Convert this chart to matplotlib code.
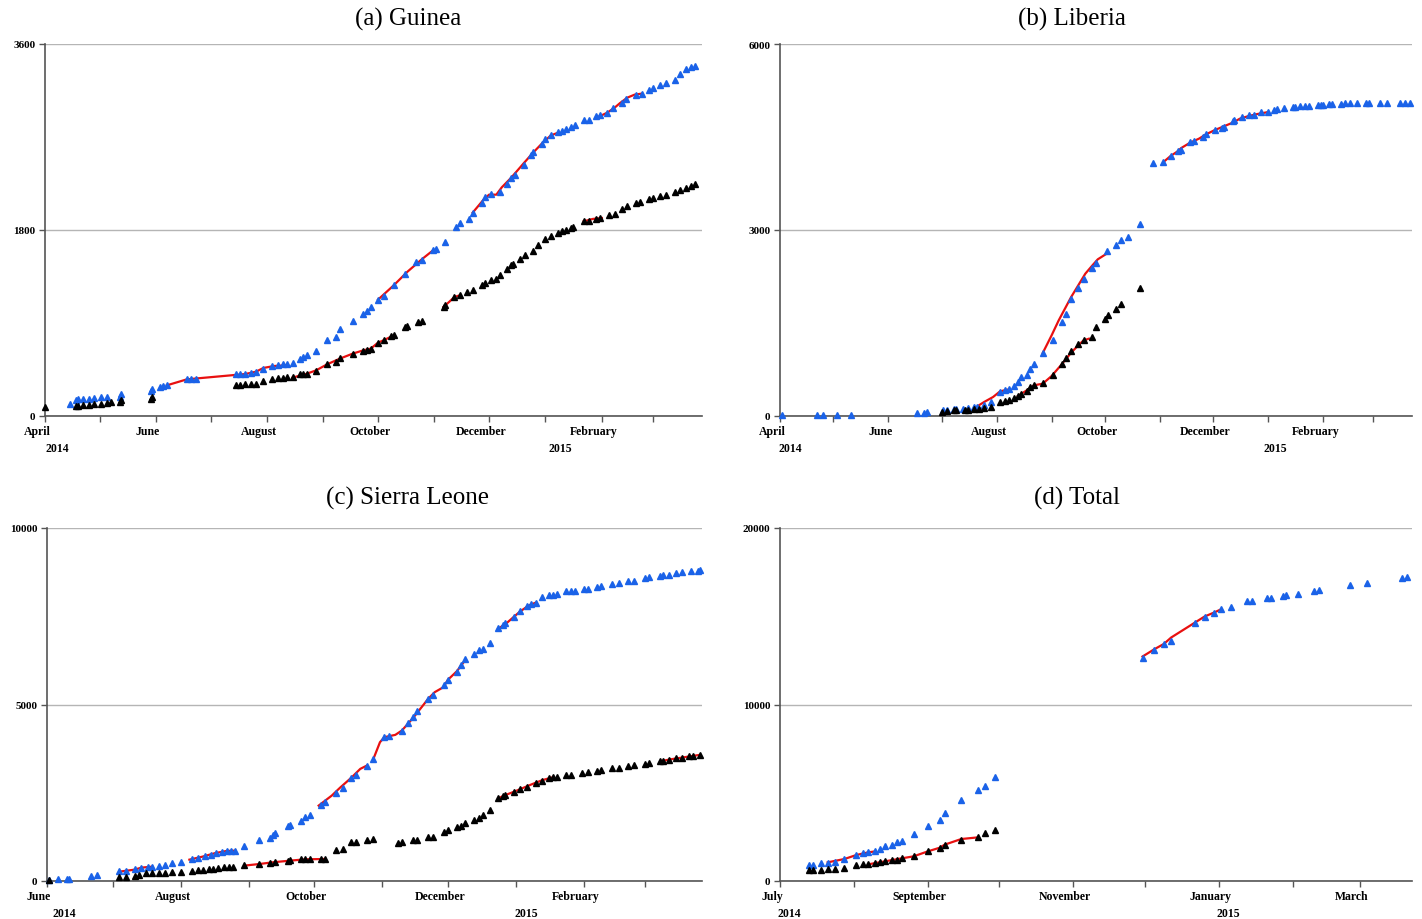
import numpy as np
import pandas as pd
import matplotlib
matplotlib.use("Agg")
from matplotlib import pyplot as plt

plt.rcParams['font.family'] = ['Liberation Serif', 'DejaVu Serif']

BLUE = '#1a62e8'
RED = '#e81010'

# ---- (a) Guinea: days since 2014-04-01 ----
guinea_case_days = [14, 17, 18, 21, 24, 27, 31, 34, 41, 42, 58, 59, 63, 65, 67, 78, 80, 83,
                    105, 107, 110, 113, 116, 120, 125, 128, 131, 133, 136, 140, 142, 144, 149,
                    155, 160, 162, 169, 175, 177, 179, 183, 186, 192, 198, 204, 207, 213, 215,
                    220, 226, 228, 233, 235, 240, 242, 245, 250, 254, 256, 258, 263, 267, 268,
                    273, 275, 278, 282, 284, 286, 289, 291, 296, 299, 303, 305, 309, 312, 317,
                    319, 325, 328, 332, 334, 338, 341, 346, 349, 352, 355, 357]
guinea_cases = [113, 152, 161, 165, 168, 174, 181, 184, 187, 213, 242, 258, 284, 294, 297, 355,
                358, 358, 403, 403, 406, 413, 423, 455, 481, 490, 500, 506, 516, 548, 571, 594,
                632, 736, 761, 839, 916, 987, 1013, 1052, 1126, 1158, 1271, 1374, 1490, 1513,
                1607, 1619, 1684, 1826, 1865, 1910, 1968, 2065, 2119, 2149, 2168, 2245, 2303,
                2329, 2426, 2529, 2555, 2632, 2678, 2716, 2749, 2761, 2774, 2797, 2816, 2861,
                2868, 2903, 2916, 2936, 2978, 3029, 3065, 3103, 3120, 3152, 3174, 3200, 3223,
                3252, 3310, 3355, 3374, 3387]
guinea_death_days = [0, 17, 18, 21, 24, 27, 31, 34, 36, 41, 42, 58, 59, 105, 107, 110, 113, 116,
                     120, 125, 128, 131, 133, 136, 140, 142, 144, 149, 155, 160, 162, 169, 175,
                     177, 179, 183, 186, 190, 192, 198, 199, 205, 207, 219, 220, 225, 228, 232,
                     235, 240, 242, 245, 248, 250, 254, 256, 257, 261, 264, 268, 271, 275, 278,
                     282, 284, 286, 289, 290, 296, 299, 303, 305, 310, 313, 317, 320, 325, 327,
                     332, 334, 338, 341, 346, 349, 352, 355, 357]
guinea_deaths = [87, 94, 100, 110, 110, 113, 119, 123, 132, 135, 155, 168, 181, 303, 303, 306,
                 313, 313, 339, 361, 365, 371, 377, 381, 403, 403, 410, 436, 500, 523, 565, 600,
                 629, 636, 652, 710, 739, 774, 784, 858, 868, 907, 923, 1052, 1071, 1152, 1168,
                 1200, 1216, 1265, 1284, 1313, 1329, 1361, 1426, 1458, 1471, 1516, 1555, 1597,
                 1658, 1710, 1742, 1774, 1794, 1800, 1819, 1826, 1884, 1890, 1910, 1916, 1942,
                 1958, 2000, 2032, 2061, 2071, 2097, 2113, 2129, 2142, 2165, 2184, 2207, 2229, 2242]
guinea_case_fit_days = [[67, 78, 110, 116, 120, 126, 133],
                        [183, 192, 199, 207, 213],
                        [235, 241, 244, 248, 251, 256, 263, 268, 273, 278, 282],
                        [304, 309, 313, 316, 320, 324, 328]]
guinea_case_fit = [[297, 355, 406, 429, 465, 484, 490],
                   [1126, 1271, 1394, 1516, 1600],
                   [1968, 2094, 2142, 2142, 2213, 2303, 2445, 2545, 2636, 2716, 2742],
                   [2894, 2936, 2984, 3029, 3081, 3110, 3120]]
guinea_death_fit_days = [[136, 144, 149, 155, 162, 169, 175, 179, 183, 186, 192],
                         [219, 222, 225, 228],
                         [296, 301, 306]]
guinea_death_fit = [[371, 410, 442, 500, 555, 603, 636, 652, 710, 732, 784],
                    [1058, 1103, 1152, 1168],
                    [1884, 1907, 1916]]

# ---- (b) Liberia: days since 2014-04-01 ----
liberia_case_days = [1, 21, 24, 32, 40, 77, 81, 83, 92, 94, 98, 99, 103, 106, 109, 111, 115, 119,
                     124, 127, 129, 132, 134, 136, 139, 141, 143, 148, 154, 159, 161, 164, 168,
                     171, 176, 178, 184, 189, 192, 196, 203, 210, 216, 220, 224, 226, 231, 233,
                     238, 240, 245, 249, 250, 255, 256, 260, 264, 267, 271, 275, 278, 280, 284,
                     289, 290, 293, 296, 298, 303, 305, 306, 309, 311, 316, 318, 321, 325, 330,
                     332, 338, 342, 349, 352, 355]
liberia_cases = [22, 22, 22, 22, 22, 43, 43, 59, 91, 97, 108, 108, 118, 124, 140, 151, 183, 226,
                 387, 425, 430, 484, 548, 629, 667, 763, 844, 1016, 1231, 1516, 1645, 1882, 2064,
                 2215, 2387, 2468, 2656, 2753, 2833, 2892, 3091, 4075, 4097, 4199, 4269, 4295,
                 4419, 4441, 4494, 4553, 4618, 4650, 4666, 4752, 4774, 4817, 4849, 4860, 4898,
                 4903, 4935, 4946, 4967, 4989, 4989, 4994, 5005, 5005, 5016, 5016, 5016, 5027,
                 5032, 5037, 5043, 5048, 5053, 5053, 5053, 5048, 5048, 5048, 5048, 5048]
liberia_death_days = [91, 94, 98, 99, 104, 106, 109, 112, 115, 119, 124, 127, 129, 132, 134, 136,
                      139, 141, 143, 148, 154, 159, 161, 164, 168, 171, 176, 178, 183, 185, 189,
                      192, 203]
liberia_deaths = [65, 86, 91, 91, 97, 102, 113, 118, 124, 145, 231, 247, 253, 296, 317, 360, 409,
                  462, 495, 538, 667, 844, 935, 1043, 1167, 1226, 1274, 1430, 1570, 1624, 1731,
                  1806, 2064]
liberia_case_fit_days = [[112, 115, 120, 124, 129],
                         [148, 153, 157, 160, 164, 168, 172, 176, 179, 184],
                         [216, 220, 224, 226, 231, 236, 240, 245, 250, 255, 259, 264, 269, 273, 275]]
liberia_case_fit = [[172, 226, 306, 398, 430],
                    [1016, 1301, 1543, 1704, 1919, 2107, 2296, 2430, 2527, 2618],
                    [4097, 4193, 4269, 4322, 4408, 4473, 4543, 4613, 4672, 4731, 4795, 4838,
                     4871, 4892, 4903]]
liberia_death_fit_days = [[134, 139, 143, 148, 153, 159, 164, 168, 171, 174]]
liberia_death_fit = [[323, 414, 495, 521, 645, 844, 1021, 1140, 1220, 1247]]

# ---- (c) Sierra Leone: days since 2014-06-01 ----
sl_case_days = [1, 5, 9, 10, 20, 23, 33, 36, 40, 43, 46, 48, 51, 54, 57, 61, 66, 69, 72, 75, 77,
                80, 82, 84, 86, 90, 97, 102, 103, 104, 110, 111, 116, 118, 120, 125, 127, 132,
                135, 139, 141, 146, 149, 154, 156, 162, 165, 167, 169, 174, 176, 181, 183, 187,
                189, 191, 195, 197, 199, 202, 206, 208, 209, 213, 216, 219, 221, 223, 226, 229,
                231, 233, 237, 239, 241, 245, 247, 251, 253, 258, 261, 265, 268, 273, 275, 280,
                281, 284, 287, 290, 294, 297, 298]
sl_cases = [38, 57, 66, 66, 151, 170, 274, 293, 340, 369, 397, 406, 435, 463, 501, 539, 614, 662,
            709, 747, 785, 822, 841, 860, 860, 992, 1172, 1210, 1304, 1352, 1560, 1578, 1711,
            1805, 1871, 2155, 2231, 2495, 2647, 2911, 3006, 3270, 3459, 4074, 4121, 4263, 4471,
            4641, 4802, 5161, 5255, 5539, 5700, 5917, 6125, 6295, 6437, 6531, 6579, 6739, 7165,
            7259, 7297, 7477, 7637, 7779, 7845, 7883, 8053, 8091, 8110, 8119, 8204, 8204, 8214,
            8261, 8280, 8337, 8356, 8412, 8441, 8507, 8507, 8582, 8601, 8649, 8658, 8677, 8715,
            8753, 8790, 8790, 8800]
sl_death_days = [1, 33, 36, 40, 42, 45, 48, 51, 54, 57, 61, 66, 69, 71, 74, 76, 78, 81, 83, 85,
                 90, 97, 102, 104, 110, 111, 116, 118, 120, 125, 127, 132, 135, 139, 141, 146, 149,
                 160, 162, 167, 169, 174, 176, 181, 183, 187, 189, 191, 195, 197, 199, 202, 206,
                 208, 209, 213, 216, 219, 223, 226, 229, 231, 233, 237, 239, 244, 247, 251, 253,
                 258, 261, 265, 268, 273, 275, 280, 281, 284, 287, 290, 293, 295, 298]
sl_deaths = [38, 104, 104, 151, 170, 217, 217, 227, 236, 246, 265, 293, 312, 321, 340, 350, 359,
             388, 388, 406, 444, 482, 510, 539, 577, 586, 614, 624, 624, 633, 633, 879, 907, 1115,
             1115, 1172, 1191, 1078, 1115, 1163, 1163, 1238, 1238, 1399, 1456, 1531, 1569, 1645,
             1730, 1796, 1871, 2023, 2344, 2420, 2439, 2533, 2599, 2675, 2779, 2836, 2911, 2940,
             2949, 3006, 3015, 3072, 3081, 3129, 3138, 3195, 3214, 3270, 3280, 3318, 3337, 3393,
             3403, 3431, 3488, 3497, 3535, 3554, 3573]
sl_case_fit_days = [[33, 40, 43, 48],
                    [65, 71, 77, 82, 86],
                    [124, 130, 134, 139, 143, 146],
                    [149, 152, 154, 159, 162, 165, 168, 171, 174, 177, 181, 183, 187, 190],
                    [206, 210, 213, 216, 220, 223]]
sl_case_fit = [[265, 321, 378, 406],
               [605, 690, 794, 851, 860],
               [2136, 2420, 2656, 2930, 3176, 3270],
               [3459, 3932, 4074, 4140, 4263, 4471, 4688, 4924, 5161, 5350, 5492, 5700, 5936, 6182],
               [7146, 7316, 7477, 7637, 7807, 7883]]
sl_death_fit_days = [[90, 97, 103, 111, 118, 127],
                     [206, 209, 213, 217, 221, 226, 231],
                     [280, 285, 290, 295, 298]]
sl_death_fit = [[435, 482, 529, 577, 614, 624],
                [2344, 2429, 2524, 2628, 2732, 2855, 2940],
                [3393, 3450, 3497, 3545, 3573]]

# ---- (d) Total: days since 2014-07-01 ----
total_case_days = [12, 14, 17, 20, 23, 27, 32, 35, 37, 40, 42, 44, 47, 49, 51, 56, 62, 67, 69, 76,
                   83, 86, 90, 152, 157, 161, 164, 174, 178, 182, 185, 189, 196, 198, 204, 206,
                   211, 212, 217, 224, 226, 239, 246, 261, 263]
total_cases = [925, 925, 1000, 1038, 1094, 1227, 1491, 1585, 1623, 1698, 1830, 1962, 2057, 2189,
               2283, 2661, 3132, 3472, 3831, 4585, 5170, 5397, 5869, 12624, 13096, 13435, 13605,
               14605, 14945, 15190, 15398, 15549, 15851, 15870, 16058, 16058, 16153, 16190, 16285,
               16455, 16511, 16775, 16889, 17172, 17209]
total_death_days = [12, 14, 17, 20, 23, 27, 32, 35, 37, 40, 42, 44, 47, 49, 51, 56, 62, 67, 69,
                    76, 83, 86, 90]
total_deaths = [604, 604, 642, 679, 679, 736, 906, 944, 944, 1000, 1057, 1113, 1170, 1208, 1283,
                1396, 1679, 1887, 2057, 2340, 2510, 2698, 2906]
total_case_fit_days = [[20, 27, 32, 37, 40],
                       [152, 157, 161, 164, 174, 178, 182, 185]]
total_case_fit = [[1057, 1245, 1472, 1623, 1679],
                  [12718, 13134, 13435, 13794, 14643, 14983, 15209, 15398]]
total_death_fit_days = [[37, 44, 51, 56, 62, 67, 69, 76, 83]]
total_death_fit = [[944, 1113, 1283, 1396, 1679, 1887, 2057, 2378, 2472]]


def to_dates(start, days):
    return np.datetime64(start) + np.array(days).astype('timedelta64[D]')


def draw_panel(ax, start, span, ymax, case_days, cases, death_days, deaths,
               cfit_days, cfit, dfit_days, dfit, year_pos):
    for d, v in zip(cfit_days, cfit):
        ax.plot(to_dates(start, d), v, color=RED, lw=1.6, zorder=2)
    for d, v in zip(dfit_days, dfit):
        ax.plot(to_dates(start, d), v, color=RED, lw=1.6, zorder=2)
    ax.plot(to_dates(start, case_days), cases, ls='none', marker='^', ms=4.5,
            color=BLUE, zorder=3, clip_on=False)
    ax.plot(to_dates(start, death_days), deaths, ls='none', marker='^', ms=4.5,
            color='black', zorder=3, clip_on=False)

    x0 = np.datetime64(start)
    x1 = x0 + np.timedelta64(span, 'D')
    ax.set_xlim(x0, x1)
    ax.set_ylim(0, ymax)

    months = pd.date_range(str(x0), str(x1), freq='MS')
    ax.set_xticks(months)
    ax.set_xticklabels([])
    # month names every other month, sitting a little left of the tick
    for i, m in enumerate(months):
        if i % 2 == 0:
            ax.annotate(m.strftime('%B'), xy=(m, 0), xycoords=('data', 'axes fraction'),
                        xytext=(-8, -15), textcoords='offset pixels', ha='center', va='center',
                        fontsize=8.5, fontweight='bold', annotation_clip=False)

    ax.set_yticks([0, ymax // 2, ymax])
    ax.set_yticklabels([str(v) for v in [0, ymax // 2, ymax]], fontsize=8, fontweight='bold')
    ax.grid(axis='y', color='#b5b5b5', lw=1)
    ax.set_axisbelow(True)
    ax.tick_params(axis='x', direction='out', length=4, width=1, color='#555555')
    ax.tick_params(axis='y', direction='out', length=4, width=1, color='#555555', pad=3)
    for s in ['top', 'right']:
        ax.spines[s].set_visible(False)
    for s in ['left', 'bottom']:
        ax.spines[s].set_color('#555555')
        ax.spines[s].set_linewidth(1.2)

    for label, day in year_pos:
        ax.annotate(label, xy=(x0 + np.timedelta64(day, 'D'), 0), xycoords=('data', 'axes fraction'),
                    xytext=(0, -32), textcoords='offset pixels', ha='center', va='center',
                    fontsize=8.5, fontweight='bold', annotation_clip=False)


fig = plt.figure(figsize=(14.22, 9.2), dpi=100)
ax_a = fig.add_axes([45 / 1422, 1 - 417 / 920, 657 / 1422, 372 / 920])
ax_b = fig.add_axes([780 / 1422, 1 - 417 / 920, 632 / 1422, 372 / 920])
ax_c = fig.add_axes([47 / 1422, 1 - 882 / 920, 655 / 1422, 353 / 920])
ax_d = fig.add_axes([780 / 1422, 1 - 882 / 920, 632 / 1422, 353 / 920])

draw_panel(ax_a, '2014-04-01', 361, 3600, guinea_case_days, guinea_cases, guinea_death_days,
           guinea_deaths, guinea_case_fit_days, guinea_case_fit, guinea_death_fit_days,
           guinea_death_fit, [('2014', 7), ('2015', 283)])
draw_panel(ax_b, '2014-04-01', 356, 6000, liberia_case_days, liberia_cases, liberia_death_days,
           liberia_deaths, liberia_case_fit_days, liberia_case_fit, liberia_death_fit_days,
           liberia_death_fit, [('2014', 6), ('2015', 279)])
draw_panel(ax_c, '2014-06-01', 299, 10000, sl_case_days, sl_cases, sl_death_days, sl_deaths,
           sl_case_fit_days, sl_case_fit, sl_death_fit_days, sl_death_fit,
           [('2014', 8), ('2015', 219)])
draw_panel(ax_d, '2014-07-01', 265, 20000, total_case_days, total_cases, total_death_days,
           total_deaths, total_case_fit_days, total_case_fit, total_death_fit_days,
           total_death_fit, [('2014', 4), ('2015', 188)])

fig.text(408 / 1422, 1 - 19 / 920, '(a) Guinea', ha='center', va='center', fontsize=18)
fig.text(1072 / 1422, 1 - 19 / 920, '(b) Liberia', ha='center', va='center', fontsize=18)
fig.text(408 / 1422, 1 - 498 / 920, '(c) Sierra Leone', ha='center', va='center', fontsize=18)
fig.text(1077 / 1422, 1 - 498 / 920, '(d) Total', ha='center', va='center', fontsize=18)

fig.savefig('out.png', dpi=100)
